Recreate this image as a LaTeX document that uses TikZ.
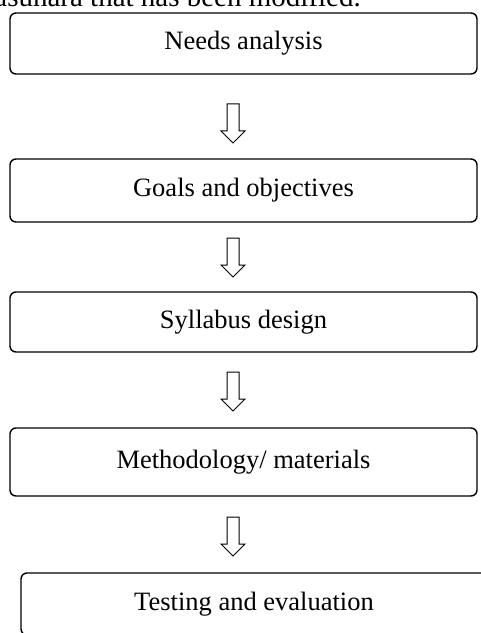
\documentclass[tikz,border=0pt]{standalone}
\usepackage{fontspec}
\setmainfont{Liberation Serif}
\tikzset{
  stage/.style={draw, line width=1.4bp, rounded corners=6bp, inner sep=0pt,
    font=\fontsize{26.5bp}{30bp}\selectfont, minimum width=467bp},
  captext/.style={font=\fontsize{29bp}{33bp}\selectfont, inner sep=0pt},
  hollowarrow/.pic={\draw[line width=1bp, line join=miter]
    (-6,0) -- (6,0) -- (6,27) -- (12,27) -- (0,39) -- (-12,27) -- (-6,27) -- cycle;}
}
\begin{document}
\begin{tikzpicture}[x=1bp,y=-1bp]
\useasboundingbox (0,0) rectangle (481,633);
\begin{scope}
  \clip (0,0) rectangle (481,633);
  \node[captext, anchor=base east] (cap) at (361,7) {Masuhara that has been modified.};
  \node[stage, minimum width=466bp, minimum height=62bp] (b5) at (254,604) {Testing and evaluation};
\end{scope}
\node[stage, minimum height=61bp] (b1) at (243.5,43.5) {Needs analysis};
\node[stage, minimum height=63bp] (b2) at (243.5,190.5) {Goals and objectives};
\node[stage, minimum height=60bp] (b3) at (243.5,322) {Syllabus design};
\node[stage, minimum height=68bp] (b4) at (243.5,462) {Methodology/ materials};
\coordinate (a1) at (233,104);
\coordinate (a2) at (233,238);
\coordinate (a3) at (233,372);
\coordinate (a4) at (233,517);
\path (a1) pic {hollowarrow};
\path (a2) pic {hollowarrow};
\path (a3) pic {hollowarrow};
\path (a4) pic {hollowarrow};
\end{tikzpicture}
\end{document}
